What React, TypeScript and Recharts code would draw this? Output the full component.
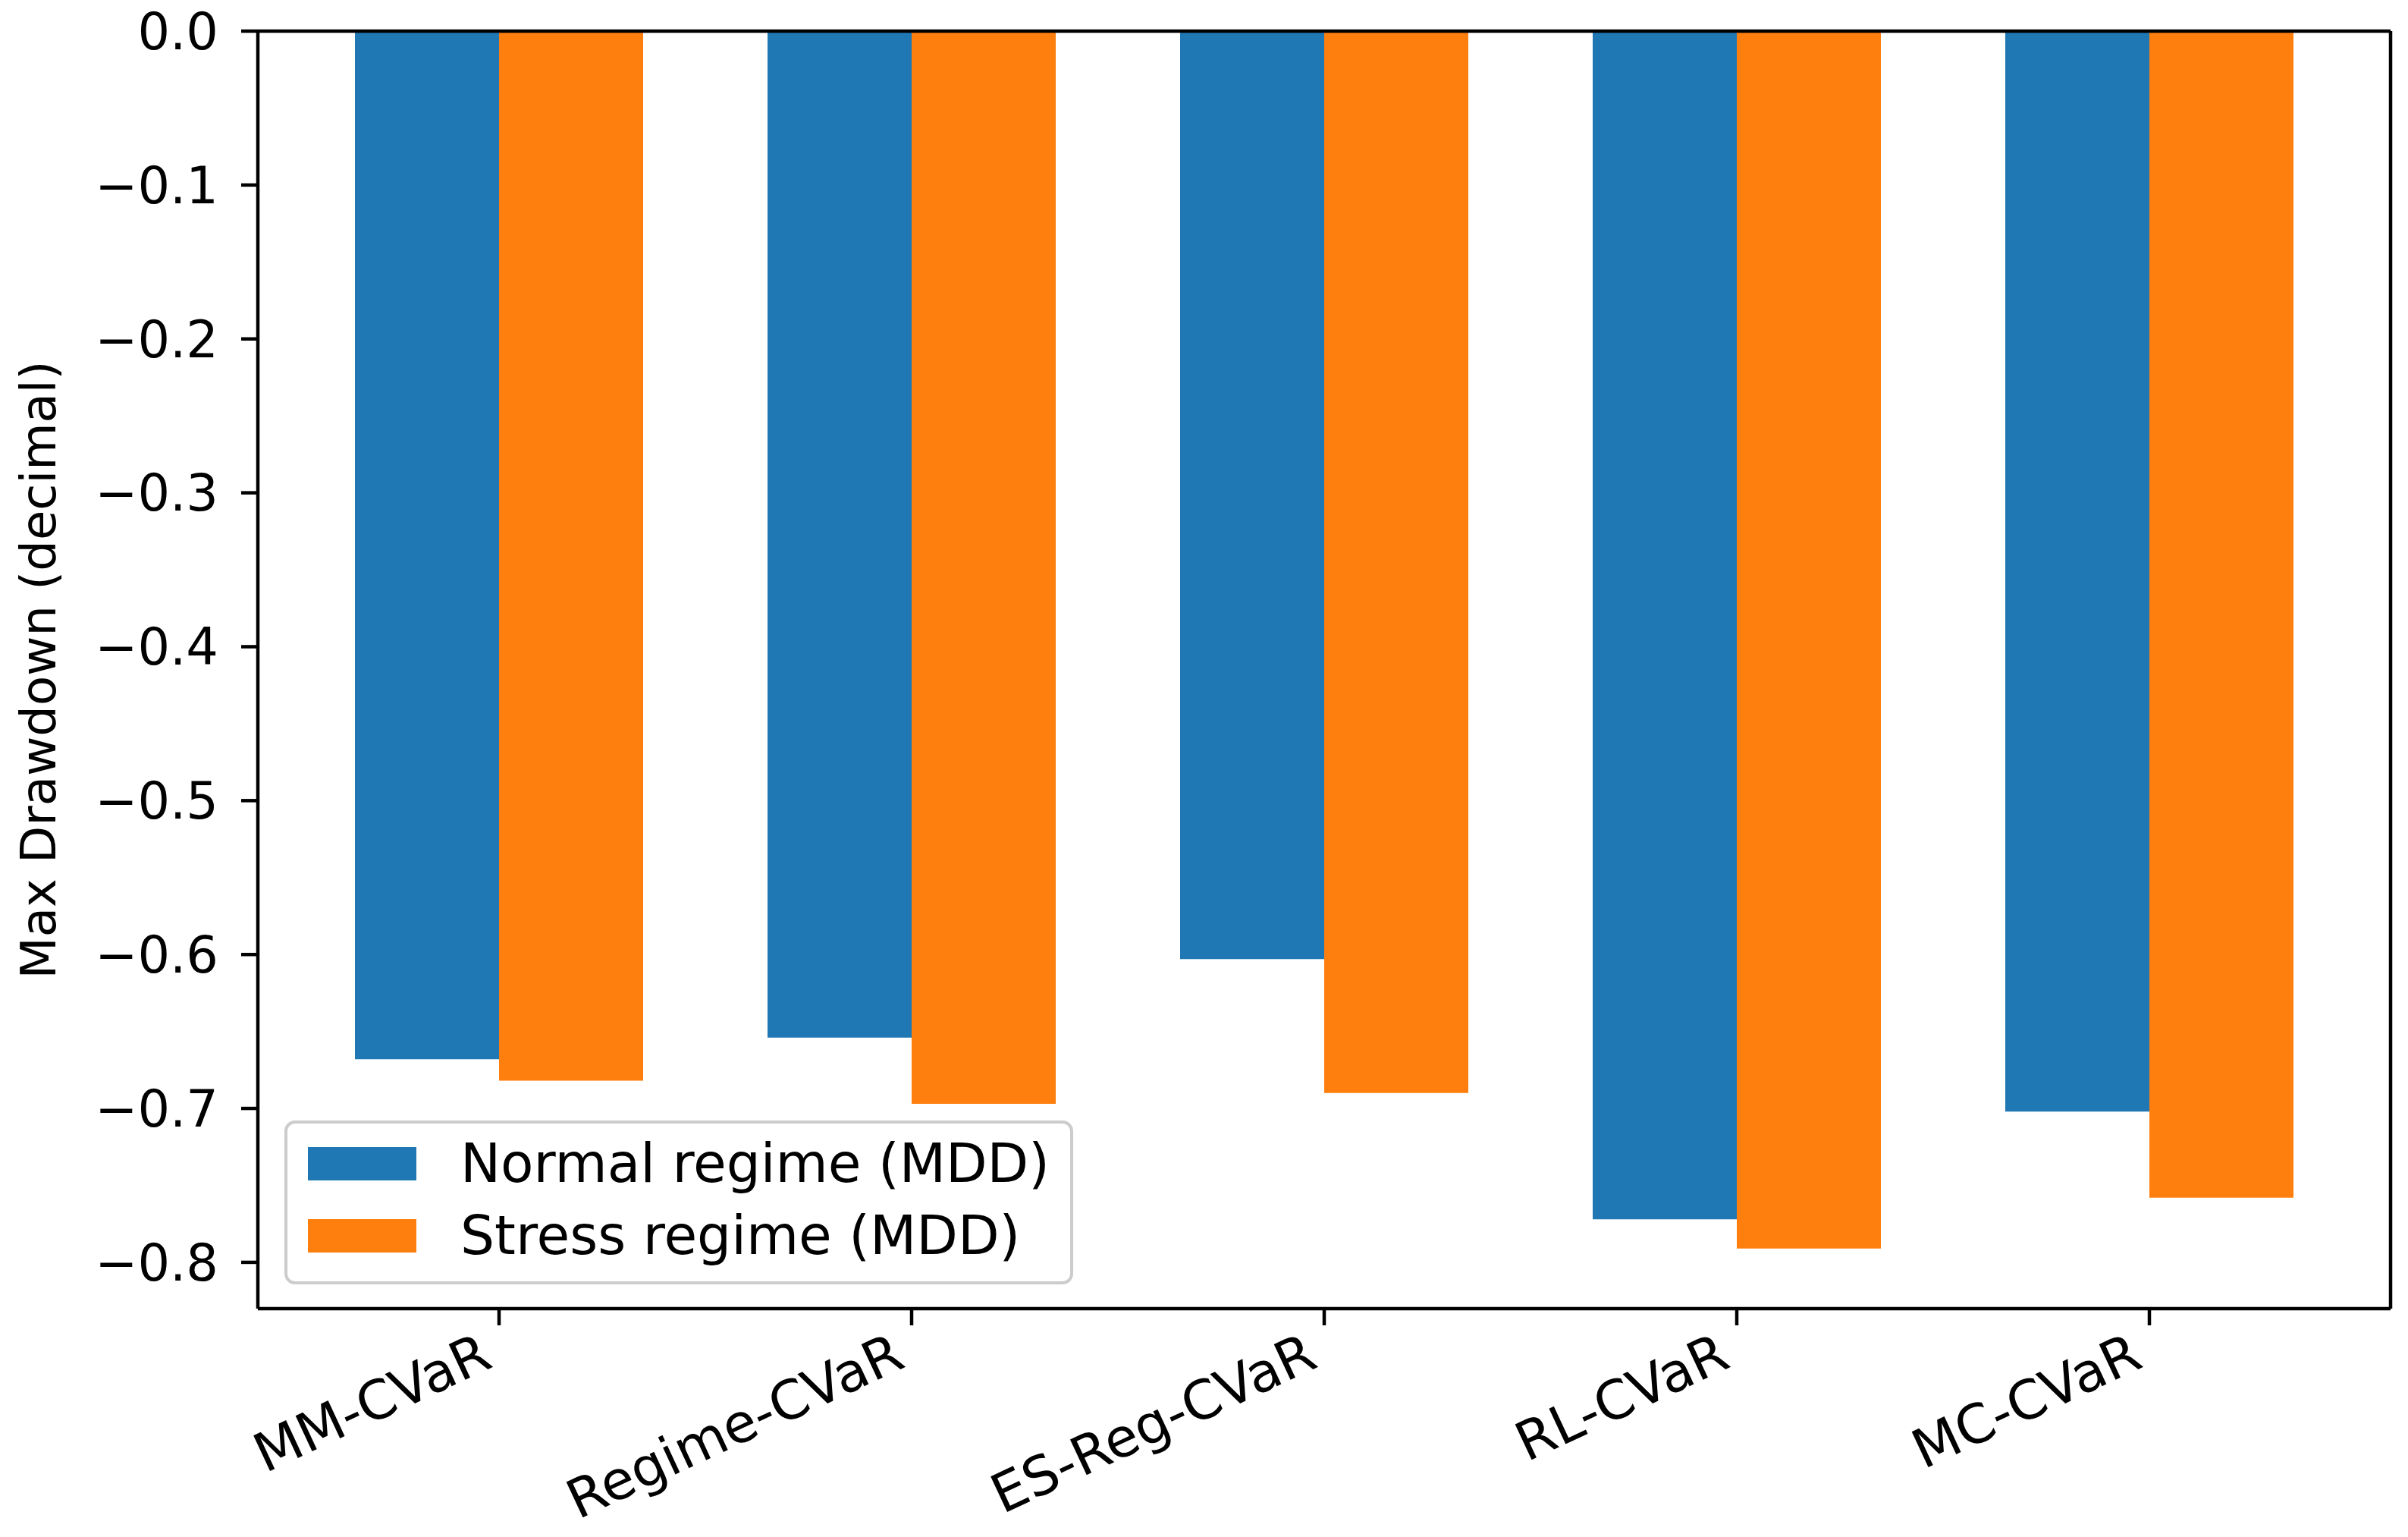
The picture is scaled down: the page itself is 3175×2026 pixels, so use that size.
import React from 'react';
import { BarChart, Bar, XAxis, YAxis, Legend } from 'recharts';

const categories = ['MM-CVaR', 'Regime-CVaR', 'ES-Reg-CVaR', 'RL-CVaR', 'MC-CVaR'];
const normalMdd = [-0.668, -0.654, -0.603, -0.772, -0.702];
const stressMdd = [-0.682, -0.697, -0.69, -0.791, -0.758];
const yTicks = [0, -0.1, -0.2, -0.3, -0.4, -0.5, -0.6, -0.7, -0.8];

const data = categories.map((name, i) => ({
  name,
  normal: normalMdd[i],
  stress: stressMdd[i],
}));

const FONT = '"DejaVu Sans", sans-serif';
const AXIS = { stroke: '#000', strokeWidth: 4.5 };

const fmtY = (v: number) => (v === 0 ? '0.0' : '\u2212' + Math.abs(v).toFixed(1));

const XTick = (props: any) => {
  const { x, y, payload } = props;
  return (
    <g transform={`translate(${x - 6},${y + 32})`}>
      <text textAnchor="end" transform="rotate(-25)" fontSize={71} fontFamily={FONT} fill="#000">
        {payload.value}
      </text>
    </g>
  );
};

const LegendBox = (props: any) => {
  const items = props.payload || [];
  return (
    <div
      style={{
        boxSizing: 'border-box',
        width: 1040,
        height: 216,
        background: 'rgba(255,255,255,0.8)',
        border: '4px solid #cccccc',
        borderRadius: 14,
        paddingTop: 5,
        fontFamily: FONT,
      }}
    >
      {items.map((it: any) => (
        <div key={it.value} style={{ display: 'flex', alignItems: 'center', height: 95 }}>
          <div style={{ width: 143, height: 44, marginLeft: 27, background: it.color }} />
          <span style={{ marginLeft: 58, fontSize: 71, color: '#000', lineHeight: 1 }}>{it.value}</span>
        </div>
      ))}
    </div>
  );
};

export default function App() {
  return (
    <div style={{ position: 'absolute', left: 0, top: 0, background: '#fff' }}>
      <BarChart
        width={3175}
        height={2026}
        data={data}
        margin={{ top: 40, right: 22, left: 0, bottom: 0 }}
        barGap={0}
        barSize={190}
      >
        <XAxis
          dataKey="name"
          height={301}
          padding={{ left: 46, right: 46 }}
          axisLine={AXIS}
          tickLine={AXIS}
          tickSize={22}
          tickMargin={22}
          tick={<XTick />}
          interval={0}
        />
        <XAxis xAxisId="top" dataKey="name" orientation="top" height={1} axisLine={AXIS} tick={false} tickLine={false} />
        <YAxis
          width={340}
          domain={[-0.8301, 0]}
          ticks={yTicks}
          tickFormatter={fmtY}
          axisLine={AXIS}
          tickLine={AXIS}
          tickSize={22}
          tickMargin={30}
          tick={{ fontSize: 67, fontFamily: FONT, fill: '#000' }}
          allowDataOverflow
          label={{
            value: 'Max Drawdown (decimal)',
            angle: -90,
            position: 'insideLeft',
            offset: 50,
            style: { textAnchor: 'middle', fontSize: 64, fontFamily: FONT, fill: '#000' },
          }}
        />
        <YAxis yAxisId="right" orientation="right" width={1} domain={[-0.8301, 0]} axisLine={AXIS} tick={false} tickLine={false} />
        <Legend
          content={<LegendBox />}
          layout="horizontal"
          verticalAlign="middle"
          align="center"
          wrapperStyle={{ left: 375, top: 1477, width: 1040, height: 216 }}
        />
        <Bar dataKey="normal" name="Normal regime (MDD)" fill="#1f77b4" isAnimationActive={false} />
        <Bar dataKey="stress" name="Stress regime (MDD)" fill="#ff7f0e" isAnimationActive={false} />
      </BarChart>
    </div>
  );
}
